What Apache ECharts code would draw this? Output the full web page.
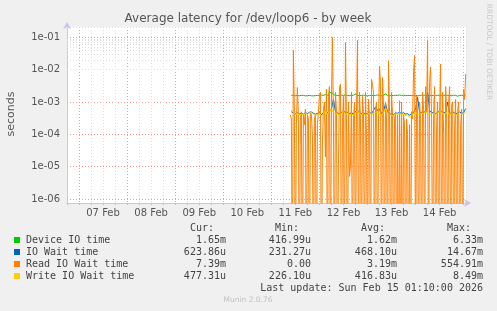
<!DOCTYPE html>
<html>
<head>
<meta charset="utf-8">
<script src="https://cdn.jsdelivr.net/npm/echarts@6/dist/echarts.min.js"></script>
<style>
html,body{margin:0;padding:0;background:#F0F0F0;}
#c{width:497px;height:311px;}
</style>
</head>
<body>
<div id="c"></div>
<script>
// ---- data (hours since 07 Feb 00:00) ----
var dayLabels = ['07 Feb','08 Feb','09 Feb','10 Feb','11 Feb','12 Feb','13 Feb','14 Feb'];
var yTickLabels = ['1e-06','1e-05','1e-04','1e-03','1e-02','1e-01'];
var hourlyStart = 106;      // first hourly sample (11 Feb 10:00)
var halfHourStart = 105.5;  // first half-hour sample (11 Feb 09:30)

var deviceIO = [
1.6e-3,1.62e-3,1.58e-3,1.6e-3,1.57e-3,1.6e-3,1.61e-3,1.55e-3,1.58e-3,1.6e-3,
1.56e-3,1.55e-3,1.58e-3,1.6e-3,1.62e-3,1.65e-3,1.6e-3,1.7e-3,1.62e-3,1.85e-3,
2.05e-3,1.7e-3,1.62e-3,1.6e-3,1.58e-3,1.62e-3,1.6e-3,1.65e-3,1.6e-3,1.58e-3,
1.6e-3,1.62e-3,1.75e-3,1.6e-3,1.58e-3,1.6e-3,1.62e-3,1.6e-3,1.55e-3,1.6e-3,
1.62e-3,1.58e-3,1.6e-3,1.65e-3,1.6e-3,1.58e-3,1.62e-3,1.8e-3,1.6e-3,1.55e-3,
1.6e-3,1.58e-3,1.62e-3,1.6e-3,1.65e-3,1.6e-3,1.62e-3,1.58e-3,1.6e-3,1.6e-3,
1.58e-3,1.6e-3,1.62e-3,1.55e-3,1.6e-3,1.62e-3,1.6e-3,1.65e-3,1.62e-3,1.6e-3,
1.58e-3,1.6e-3,1.6e-3,1.62e-3,1.6e-3,1.58e-3,1.6e-3,1.62e-3,1.6e-3,1.58e-3,
1.6e-3,1.62e-3,1.6e-3,1.52e-3,1.6e-3,1.62e-3,1.58e-3,1.65e-3];

var ioWait = [
5e-4,4.6e-4,4.4e-4,4.7e-4,4.3e-4,4.5e-4,4.2e-4,4.7e-4,4.4e-4,4.8e-4,
4.9e-4,4.5e-4,4.2e-4,4.4e-4,4.7e-4,4.1e-4,4.6e-4,5.5e-4,4.6e-4,5.2e-4,
6e-4,1.2e-3,5e-4,4.6e-4,4.3e-4,4.8e-4,5.5e-4,4.5e-4,4.8e-4,4.4e-4,
4.6e-4,4.3e-4,5e-4,5.6e-4,4.7e-4,4.4e-4,4.7e-4,4.2e-4,4.5e-4,4.8e-4,
4.4e-4,5.5e-4,7e-4,5.5e-4,6e-4,4.4e-4,5e-4,9e-4,5e-4,4.4e-4,
4.2e-4,4e-4,4.6e-4,4.5e-4,4.8e-4,4.4e-4,4.7e-4,4.2e-4,4.4e-4,3.9e-4,
4.3e-4,4.8e-4,6e-4,1.4e-3,4.6e-4,4.8e-4,4.7e-4,5.2e-4,2e-3,5.5e-4,
4.6e-4,4.8e-4,4.4e-4,4.7e-4,5.4e-4,5e-4,4.6e-4,4.8e-4,1e-3,4.6e-4,
4.4e-4,4.8e-4,4.3e-4,4.6e-4,4.9e-4,4.5e-4,4.7e-4,6.24e-4];

var readIOWait = [
4e-4,3e-4,0,4e-2,5e-4,0,2e-4,2.8e-3,4e-4,0,
3e-4,5e-4,0,4e-4,2e-4,6e-4,0,4e-4,3e-4,0,
5e-4,4e-4,1e-4,0,3e-4,4e-4,0,2e-4,5e-4,1.5e-3,
2e-3,0,5e-5,6e-4,1e-3,2e-5,2.5e-3,0,1.5e-3,3e-3,
0,1e-3,0.1,3e-4,0,2e-3,6e-4,0,1e-5,3e-3,
3.5e-3,0,2e-4,1.5e-3,0,7e-2,3e-4,0,1e-3,5e-6,
1e-5,2e-3,0,3e-4,1e-3,0,5e-4,8e-2,0,2e-3,
3e-4,0,1.5e-3,5e-4,0,2e-3,1e-4,0,1.2e-3,3e-4,
0,5e-3,3.5e-3,2e-3,0,6e-4,1e-3,0,3e-4,1.3e-2,
4e-3,0,5.7e-3,8e-4,0,1e-3,3e-4,0,1.9e-2,5e-4,
0,2e-3,4e-4,0,3e-4,5e-4,0,4e-4,0,1.1e-3,
0,1e-3,0,4e-4,2e-4,0,3e-4,1e-4,0,2e-4,
0,5e-4,3e-4,9e-3,2.8e-2,0,1.5e-3,4e-4,0,1e-3,
3e-4,0,2e-3,6e-4,0,3e-3,5e-4,8e-2,0,4e-3,
1.2e-2,3e-4,0,5e-4,3e-3,0,2e-4,1e-3,0,5e-4,
1.5e-2,0,2e-3,1e-4,0,3e-3,5e-4,0,1e-3,3e-3,
0,8e-4,1e-3,0,2e-4,1.2e-3,0,5e-4,1e-3,0,
2e-4,6e-4,0,2.5e-3,1.2e-3,7.39e-3];

var writeIOWait = [
5.5e-4,4.8e-4,4.2e-4,4.5e-4,4e-4,4.3e-4,3.9e-4,4.5e-4,4.1e-4,4.6e-4,
4.8e-4,4.2e-4,3.8e-4,4e-4,4.5e-4,3.7e-4,4.2e-4,5.5e-4,4.2e-4,5e-4,
6e-4,4.8e-4,4.2e-4,4.4e-4,3.9e-4,4.6e-4,5.2e-4,4.1e-4,4.6e-4,4e-4,
4.3e-4,3.9e-4,4.8e-4,5.5e-4,4.4e-4,4.1e-4,4.5e-4,3.8e-4,4.2e-4,4.6e-4,
4e-4,4.4e-4,4.8e-4,5e-4,4.2e-4,3.9e-4,4.6e-4,6.5e-4,4.5e-4,4.1e-4,
3.8e-4,3.6e-4,4.3e-4,4.2e-4,4.5e-4,4e-4,4.4e-4,3.8e-4,4.1e-4,3.4e-4,
3.9e-4,4.4e-4,4.8e-4,4.2e-4,4e-4,4.5e-4,4.3e-4,5e-4,4.4e-4,4.1e-4,
4.3e-4,4.6e-4,4e-4,4.4e-4,5.2e-4,4.7e-4,4.2e-4,4.5e-4,4.9e-4,4.3e-4,
4.1e-4,4.5e-4,3.9e-4,4.3e-4,4.6e-4,4.2e-4,4.4e-4,4.77e-4];

var seriesNames = ['Device IO time','IO Wait time','Read IO Wait time','Write IO Wait time'];
var seriesColors = ['#00CC00','#0066B3','#FF8000','#FFCC00'];
var curVals = ['1.65m','623.86u','7.39m','477.31u'];
var minVals = ['416.99u','231.27u','0.00','226.10u'];
var avgVals = ['1.62m','468.10u','3.19m','416.83u'];
var maxVals = ['6.33m','14.67m','554.91m','8.49m'];

// ---- build ----
var Y_MIN = 7.5e-7, Y_MAX = 0.21;
function pairs(arr, start, step) {
  return arr.map(function (v, i) { return [start + i * step, v > 0 ? v : 1e-9]; });
}
var minorGrid = [];
for (var d = -7; d <= -1; d++) {
  for (var k = 2; k <= 9; k++) {
    var v = k * Math.pow(10, d);
    if (v > Y_MIN && v < Y_MAX) minorGrid.push({ yAxis: v });
  }
}
var gray = '#DDDDDD', red = 'rgba(235,120,120,0.75)';
var mono = '"DejaVu Sans Mono", monospace';

var graphics = [
  { type: 'text', x: 248, y: 19, style: { text: 'Average latency for /dev/loop6 - by week', font: '12px "DejaVu Sans"', fill: '#555', align: 'center', verticalAlign: 'middle' } },
  { type: 'text', x: 11, y: 114, rotation: Math.PI / 2, style: { text: 'seconds', font: '11px "DejaVu Sans"', fill: '#555', align: 'center', verticalAlign: 'middle' } },
  { type: 'text', x: 489, y: 52, rotation: -Math.PI / 2, style: { text: 'RRDTOOL / TOBI OETIKER', font: '7.5px "DejaVu Sans"', fill: '#C8C8C8', align: 'center', verticalAlign: 'middle' } },
  { type: 'text', x: 248, y: 300, style: { text: 'Munin 2.0.76', font: '7.5px "DejaVu Sans"', fill: '#C0C0C0', align: 'center', verticalAlign: 'middle' } },
  { type: 'text', x: 483, y: 288, style: { text: 'Last update: Sun Feb 15 01:10:00 2026', font: '10px ' + mono, fill: '#444', align: 'right', verticalAlign: 'middle' } }
];
var colRight = [226, 311, 397, 483];
var headers = ['Cur:', 'Min:', 'Avg:', 'Max:'];
headers.forEach(function (h, i) {
  graphics.push({ type: 'text', x: colRight[i] - 12, y: 228.5, style: { text: h, font: '10px ' + mono, fill: '#444', align: 'right', verticalAlign: 'middle' } });
});
seriesNames.forEach(function (n, r) {
  var y = 240 + r * 12;
  graphics.push({ type: 'rect', shape: { x: 14, y: y - 3, width: 6, height: 6 }, style: { fill: seriesColors[r] } });
  graphics.push({ type: 'text', x: 26, y: y, style: { text: n, font: '10px ' + mono, fill: '#444', align: 'left', verticalAlign: 'middle' } });
  [curVals, minVals, avgVals, maxVals].forEach(function (col, c) {
    graphics.push({ type: 'text', x: colRight[c], y: y, style: { text: col[r], font: '10px ' + mono, fill: '#444', align: 'right', verticalAlign: 'middle' } });
  });
});

var chart = echarts.init(document.getElementById('c'), null, { renderer: 'canvas' });
chart.setOption({
  animation: false,
  backgroundColor: '#F0F0F0',
  grid: { left: 67, right: 31, top: 27, bottom: 108, show: true, backgroundColor: '#FFFFFF', borderWidth: 0 },
  xAxis: {
    type: 'value', min: -6, max: 193.1667, interval: 6,
    axisLine: { show: true, onZero: false, lineStyle: { color: '#C4C8E8' }, symbol: ['none', 'arrow'], symbolSize: [6, 7], symbolOffset: [0, 5] },
    axisTick: { show: true, length: 2, lineStyle: { color: '#C0C0C0' } },
    axisLabel: {
      interval: 0, color: '#555', fontSize: 10, fontFamily: 'DejaVu Sans', margin: 5,
      formatter: function (v) {
        var h = Math.round(v * 1000) / 1000;
        if (((h % 24) + 24) % 24 !== 12) return '';
        var idx = Math.floor(h / 24);
        return dayLabels[idx] || '';
      }
    },
    splitLine: { show: true, lineStyle: { color: [gray, red, gray, gray], type: [1, 2], width: 1 } }
  },
  yAxis: {
    type: 'log', logBase: 10, min: Y_MIN, max: Y_MAX,
    axisLine: { show: true, onZero: false, lineStyle: { color: '#C4C8E8' }, symbol: ['none', 'arrow'], symbolSize: [6, 7], symbolOffset: [0, 5] },
    axisTick: { show: false },
    axisLabel: {
      color: '#555', fontSize: 10, fontFamily: 'DejaVu Sans', margin: 7,
      formatter: function (v) {
        var e = Math.log10(v), r = Math.round(e);
        if (Math.abs(e - r) > 1e-6) return '';
        return yTickLabels[r + 6] || '';
      }
    },
    splitLine: { show: true, showMinLine: false, showMaxLine: false, lineStyle: { color: red, type: [1, 2], width: 1 } }
  },
  series: [
    { name: seriesNames[0], type: 'line', showSymbol: false, symbol: 'none', data: pairs(deviceIO, hourlyStart, 1),
      lineStyle: { color: seriesColors[0], width: 1 }, itemStyle: { color: seriesColors[0] },
      markLine: { silent: true, z: 1, symbol: ['none', 'none'], label: { show: false }, animation: false,
        lineStyle: { color: gray, type: [1, 2], width: 1 }, emphasis: { disabled: true }, data: minorGrid } },
    { name: seriesNames[1], type: 'line', showSymbol: false, symbol: 'none', data: pairs(ioWait, hourlyStart, 1),
      lineStyle: { color: seriesColors[1], width: 1 }, itemStyle: { color: seriesColors[1] } },
    { name: seriesNames[2], type: 'line', showSymbol: false, symbol: 'none', data: pairs(readIOWait, halfHourStart, 0.5),
      lineStyle: { color: seriesColors[2], width: 1 }, itemStyle: { color: seriesColors[2] } },
    { name: seriesNames[3], type: 'line', showSymbol: false, symbol: 'none', data: pairs(writeIOWait, hourlyStart, 1),
      lineStyle: { color: seriesColors[3], width: 1 }, itemStyle: { color: seriesColors[3] } }
  ],
  graphic: graphics
});
</script>
</body>
</html>
